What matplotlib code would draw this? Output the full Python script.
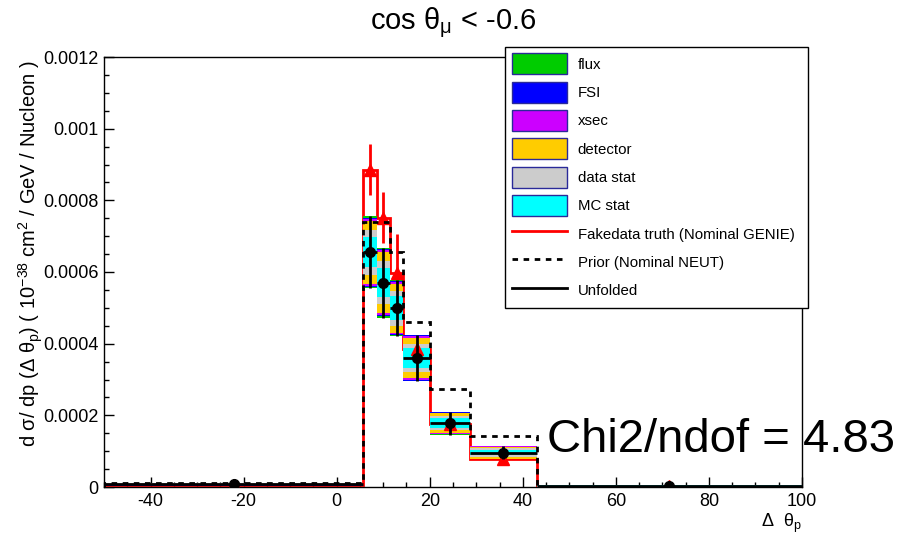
import numpy as np
import matplotlib
matplotlib.use('Agg')
import matplotlib.pyplot as plt
from matplotlib.patches import Patch
from matplotlib.lines import Line2D
from matplotlib.ticker import MultipleLocator, FuncFormatter

plt.rcParams['font.family'] = ['Liberation Sans', 'DejaVu Sans']
plt.rcParams['mathtext.fontset'] = 'custom'
plt.rcParams['mathtext.rm'] = 'Liberation Sans'
plt.rcParams['mathtext.it'] = 'Liberation Sans'
plt.rcParams['axes.unicode_minus'] = False

# bin edges in degrees
edges = np.array([-50, 5.73, 8.59, 11.46, 14.32, 20.05, 28.65, 42.97, 100])

truth = np.array([0.000005, 0.000886, 0.000752, 0.000597, 0.000385, 0.000175, 0.000078, 0.000002])
truth_err = np.array([0, 0.00007, 0.00007, 0.00011, 0.00003, 0.00001, 0.00001, 0])
prior = np.array([0.00001, 0.00074, 0.00074, 0.000655, 0.000461, 0.000273, 0.000143, 0.000001])
unfolded = np.array([0.000008, 0.000655, 0.00057, 0.000499, 0.00036, 0.000178, 0.000096, 0.000003])
band = np.array([0.000004, 0.0001, 0.000097, 0.000078, 0.000065, 0.000032, 0.000019, 0.000003])

# error sources: fraction of total band drawn for each
sources = ['flux', 'FSI', 'xsec', 'detector', 'data stat', 'MC stat']
source_frac = [1.0, 0.97, 0.93, 0.88, 0.62, 0.42]
source_col = ['#00cc00', '#0000ff', '#cc00ff', '#ffcc00', '#cccccc', '#00ffff']

chi2 = 4.83

centers = 0.5 * (edges[1:] + edges[:-1])
widths = edges[1:] - edges[:-1]

fig = plt.figure(figsize=(9.14, 5.34), dpi=100)
ax = fig.add_axes([104/914, 1-487/534, 698/914, 430/534])

# truth
ax.errorbar(centers, truth, yerr=truth_err, fmt='none', ecolor='red', elinewidth=2, capsize=0, zorder=2)
ax.stairs(truth, edges, color='red', lw=2, zorder=2.5)

# systematic bands
for f, c in zip(source_frac, source_col):
    ax.bar(centers, 2 * f * band, width=widths, bottom=unfolded - f * band,
           color=c, linewidth=0, zorder=3)

ax.plot(centers, truth, '^', color='red', ms=8, zorder=4)
ax.stairs(prior, edges, color='black', lw=2, linestyle=(0, (2, 2)), zorder=5)
ax.errorbar(centers, unfolded, xerr=widths / 2, yerr=band, fmt='o', color='black',
            ms=7, elinewidth=2, capsize=0, zorder=6)

ax.set_xlim(-50, 100)
ax.set_ylim(0, 0.0012)
ax.xaxis.set_major_locator(MultipleLocator(20))
ax.xaxis.set_minor_locator(MultipleLocator(5))
ax.yaxis.set_major_locator(MultipleLocator(0.0002))
ax.yaxis.set_minor_locator(MultipleLocator(0.00005))
ax.yaxis.set_major_formatter(FuncFormatter(lambda v, p: '%g' % round(v, 6)))
ax.tick_params(which='both', direction='in', top=False, right=False, labelsize=13)
ax.tick_params(which='major', length=7, width=1, pad=4)
ax.tick_params(which='minor', length=3.5, width=1)
for s in ax.spines.values():
    s.set_linewidth(1)

ax.set_title(r'cos $\theta_{\mu}$ < -0.6', fontsize=21, pad=20)
ax.set_ylabel(r'd $\sigma$/ dp ($\Delta$ $\theta_{p}$) ( 10$^{-38}$ cm$^{2}$ / GeV / Nucleon )',
              fontsize=14.5, loc='top')
ax.yaxis.set_label_coords(-0.085, 0.993)
ax.set_xlabel(r'$\Delta$  $\theta_{p}$', fontsize=13, loc='right')
ax.xaxis.set_label_coords(1.0, -0.058)

fig.text(547/914, 1-440/534, 'Chi2/ndof = %.2f' % chi2, fontsize=34, va='center', ha='left')

handles = [Patch(facecolor=c, edgecolor='#2a2a99', linewidth=1) for c in source_col]
handles += [Line2D([], [], color='red', lw=2),
            Line2D([], [], color='black', lw=2, linestyle=(0, (2, 2))),
            Line2D([], [], color='black', lw=2)]
labels = sources + ['Fakedata truth (Nominal GENIE)', 'Prior (Nominal NEUT)', 'Unfolded']
leg = fig.legend(handles, labels, loc='upper left', bbox_to_anchor=(505/914, 0, 303/914, 1-46.7/534),
                 mode='expand', fontsize=10.8, handlelength=3.67, handleheight=1.75,
                 labelspacing=0.507, handletextpad=0.73, borderpad=0.45, borderaxespad=0,
                 fancybox=False, framealpha=1, edgecolor='black')
leg.get_frame().set_linewidth(1)

fig.savefig('out.png', dpi=100)
